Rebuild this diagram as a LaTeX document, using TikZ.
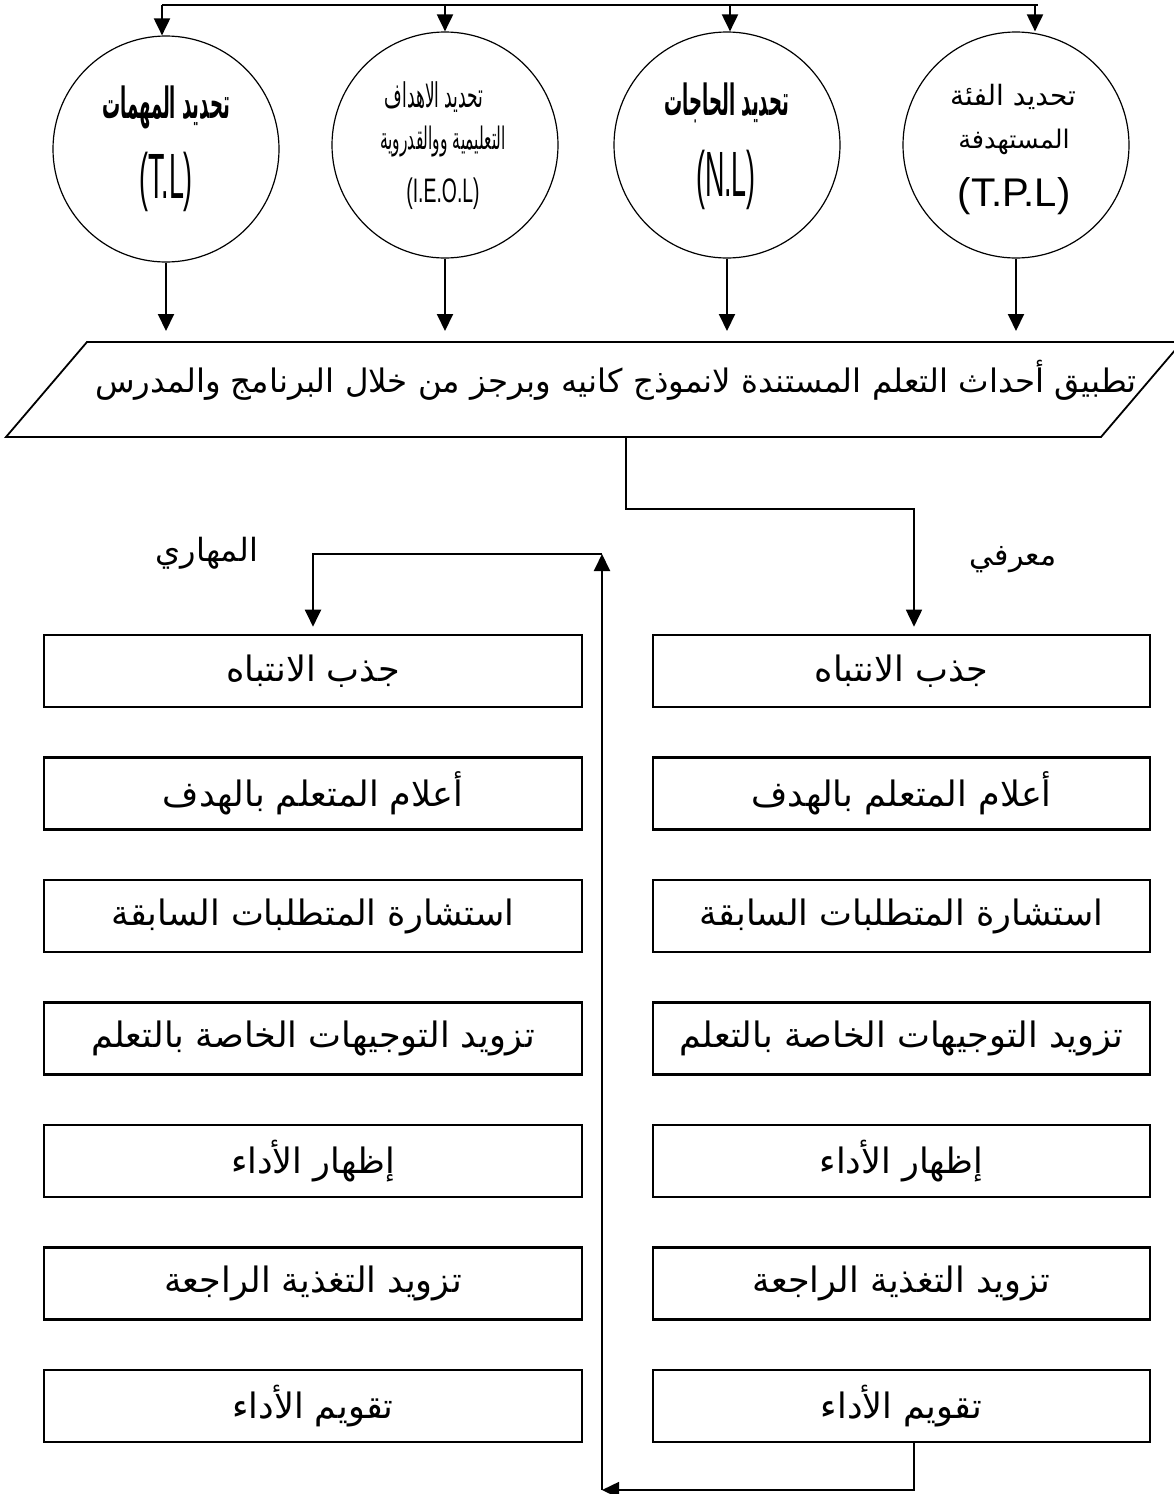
\documentclass[tikz,border=0pt]{standalone}
\usepackage{fontspec}
\newfontfamily\arabicfont[Script=Arabic]{DejaVu Sans}
\newfontfamily\arabicnarrow[Script=Arabic,FakeStretch=0.5]{DejaVu Sans}
\newfontfamily\arabiccond[Script=Arabic,FakeStretch=0.42]{DejaVu Sans}
\newfontfamily\latinfont{Liberation Sans}
\newfontfamily\latinsemi[FakeStretch=0.57]{Liberation Sans}
\newfontfamily\latinnarrow[FakeStretch=0.42]{Liberation Sans}
\TeXXeTstate=1
\usepackage{tikz}
\usetikzlibrary{arrows.meta}
\usetikzlibrary{calc}

\newcommand{\artext}[1]{\beginR #1\endR}

\tikzset{
    circ/.style={circle, draw, line width=0.6pt, minimum size=113pt, inner sep=0pt},
    stage/.style={rectangle, draw, line width=1.3pt, minimum height=36pt, inner sep=0pt,
        font=\arabicfont\fontsize{17.5}{20}\selectfont},
    lstage/.style={stage, minimum width=269pt},
    rstage/.style={stage, minimum width=248.5pt},
    link/.style={line width=1pt},
    >={Triangle[length=8.5pt,width=8pt]}
}

\begin{document}
\begin{tikzpicture}[x=0.5pt,y=-0.5pt]
    \useasboundingbox (0,0) rectangle (1173,1494);

    \node[circ] (tl) at (166,149) {};
    \node[circ] (ieol) at (445,145) {};
    \node[circ] (nl) at (727,145) {};
    \node[circ] (tpl) at (1016,145) {};

    \node[font=\arabiccond\bfseries\fontsize{21.5}{24}\selectfont] (tl-ar) at (166,107) {\artext{تحديد المهمات}};
    \node[font=\latinnarrow\fontsize{32}{34}\selectfont] (tl-en) at (166,182) {(T.L)};
    \node[font=\arabicnarrow\fontsize{17}{19}\selectfont] (ieol-ar1) at (434,97) {\artext{تحديد الاهداف}};
    \node[font=\arabicnarrow\fontsize{15.5}{17}\selectfont] (ieol-ar2) at (443,142) {\artext{التعليمية ووالقدروية}};
    \node[font=\latinsemi\fontsize{17}{19}\selectfont] (ieol-en) at (443,194) {(I.E.O.L)};
    \node[font=\arabiccond\bfseries\fontsize{21.5}{24}\selectfont] (nl-ar) at (727,103) {\artext{تحديد الحاجات}};
    \node[font=\latinnarrow\fontsize{32}{34}\selectfont] (nl-en) at (726,180) {(N.L)};
    \node[font=\arabicfont\fontsize{14}{16}\selectfont] (tpl-ar1) at (1013,97) {\artext{تحديد الفئة}};
    \node[font=\arabicfont\fontsize{12.8}{15}\selectfont] (tpl-ar2) at (1014,142) {\artext{المستهدفة}};
    \node[font=\latinfont\fontsize{20}{22}\selectfont] (tpl-en) at (1014,196) {(T.P.L)};

    \foreach \n/\x in {tl/162,ieol/445,nl/730,tpl/1035}{
        \coordinate (drop-\n) at (\x,5);
        \draw[link,->] (drop-\n) -- (drop-\n |- \n.north);
    }
    \draw[link] (drop-tl) -- (drop-tpl) -- ++(3,0);

    \coordinate (p-in) at (0,331);
    \foreach \n in {tl,ieol,nl,tpl}
        \draw[link,->] (\n.south) -- (\n.south |- p-in);

    \coordinate (p-sw) at (6,437);
    \coordinate (p-se) at (1101,437);
    \coordinate (p-ne) at (1182,342);
    \coordinate (p-nw) at (87,342);
    \draw[line width=0.9pt] (p-sw) -- (p-se) -- (p-ne) -- (p-nw) -- cycle;
    \node[font=\arabicfont\fontsize{16.2}{19}\selectfont] (apply) at (616,380)
        {\artext{تطبيق أحداث التعلم المستندة لانموذج كانيه وبرجز من خلال البرنامج والمدرس}};

    \node[font=\arabicfont\fontsize{15}{18}\selectfont] (cog) at (1013,560) {\artext{معرفي}};
    \node[font=\arabicfont\fontsize{16}{18}\selectfont] (skill) at (207,553) {\artext{المهاري}};

    \foreach \i/\txt in {1/جذب الانتباه,2/أعلام المتعلم بالهدف,3/استشارة المتطلبات السابقة,
        4/تزويد التوجيهات الخاصة بالتعلم,5/إظهار الأداء,6/تزويد التغذية الراجعة,7/تقويم الأداء}{
        \node[lstage] (l\i) at (313,{671+(\i-1)*122.5}) {\artext{\txt}};
        \node[rstage] (r\i) at (901.5,{671+(\i-1)*122.5}) {\artext{\txt}};
    }

    \coordinate (p-out) at (626,437);
    \coordinate (split) at (914,509);
    \draw[line width=0.8pt,->,shorten >=3.5pt] (p-out) |- (split) -- (split |- r1.north);

    \coordinate (back) at (602,1490);
    \coordinate (turn) at (602,554);
    \draw[line width=0.8pt,->] (r7.south -| split) |- (back);
    \draw[link,->] (back) -- (turn);
    \draw[link,->,shorten >=3.5pt] (turn) -| (l1.north);
\end{tikzpicture}
\end{document}
